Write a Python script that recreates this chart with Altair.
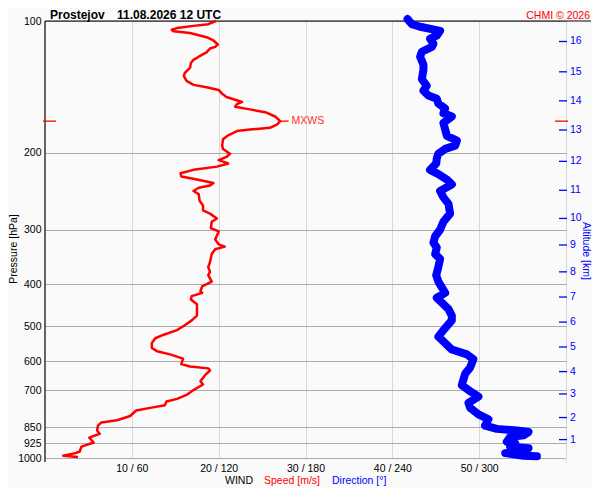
import altair as alt
import pandas as pd

# ---- data ----
speed_p = [100.0,101.7,102.6,103.8,104.7,105.6,106.5,108.9,110.8,113.2,
           114.6,115.6,118.0,120.7,122.7,124.8,128.0,131.4,133.7,137.1,
           140.0,141.8,143.8,146.8,149.3,151.4,153.2,155.0,157.1,159.3,
           162.0,165.4,169.5,172.6,175.6,177.1,178.6,182.6,186.4,192.8,
           196.2,201.3,204.7,208.2,211.8,215.4,219.1,223.0,226.8,230.6,
           234.7,237.8,240.8,244.9,249.0,257.7,264.4,271.3,275.9,283.0,
           288.0,297.9,303.1,316.2,324.4,328.3,332.8,341.5,356.3,365.5,
           375.0,381.6,394.7,404.9,415.4,419.0,426.2,433.6,444.9,472.1,
           484.3,496.9,509.7,522.9,532.1,545.9,560.1,569.6,579.3,592.5,
           609.7,617.3,623.6,631.0,647.3,667.5,678.9,699.2,717.3,732.2,
           742.3,757.7,767.9,778.6,801.6,819.4,829.1,843.3,865.2,880.1,
           898.3,921.4,941.9,966.3,974.7,988.3,994.9]
speed_v = [19.7,18.8,17.1,15.2,14.6,14.8,16.7,18.6,19.4,19.9,
           19.6,19.0,18.6,17.7,17.1,16.8,16.7,16.1,16.0,16.3,
           17.1,18.6,20.0,20.4,20.9,21.9,22.7,22.1,21.9,23.6,
           25.5,26.5,27.1,26.7,25.9,23.6,22.1,21.1,20.5,20.4,
           20.5,21.3,20.9,20.0,21.1,19.8,17.1,15.6,15.7,17.5,
           19.4,19.0,17.7,17.1,17.7,17.8,18.2,18.2,19.0,19.8,
           19.2,19.1,20.0,19.6,20.0,20.7,19.6,19.2,19.0,18.8,
           19.0,18.8,19.2,18.1,17.9,18.1,16.9,16.8,17.5,17.5,
           16.9,16.1,15.2,13.6,12.7,12.3,12.3,12.9,14.4,15.9,
           15.7,16.7,18.8,19.0,18.4,17.9,18.2,17.1,16.3,15.2,
           14.0,13.8,12.1,10.5,9.8,8.3,6.5,6.1,6.0,6.3,
           5.1,5.6,4.2,4.0,3.5,2.1,3.8]

dir_p = [99.0,101.7,103.1,105.3,108.0,109.8,112.7,114.6,117.6,120.7,
         125.9,129.2,135.9,140.7,144.3,148.1,150.6,154.5,158.5,162.6,
         165.4,171.1,177.1,183.2,187.9,192.8,196.2,201.3,206.5,211.8,
         219.1,224.1,230.6,236.6,244.9,253.3,262.1,275.9,288.0,300.4,
         310.9,321.6,329.9,341.5,350.3,365.5,381.6,394.7,419.0,429.9,
         441.0,456.4,472.1,484.3,509.7,527.5,545.9,564.7,579.3,594.3,
         620.4,641.7,681.3,699.2,723.6,748.2,767.9,794.3,815.3,843.3,
         857.7,865.2,872.3,887.6,894.9,918.1,926.1,941.9,950.1,966.3,
         974.7,988.3,991.3]
dir_v = [250.5,253.5,259.2,273.0,270.7,266.1,268.4,267.3,260.4,259.2,
         261.5,261.5,260.4,263.8,261.5,264.9,270.7,271.8,276.5,275.3,
         281.1,275.3,276.5,277.7,284.6,283.4,276.5,271.8,270.7,270.3,
         266.1,271.8,277.7,281.1,273.0,275.3,278.8,279.9,275.3,273.0,
         269.6,268.4,270.7,269.6,273.0,271.8,270.3,271.8,276.5,270.7,
         274.2,278.8,281.1,281.1,275.3,271.8,276.5,281.1,291.5,296.0,
         293.8,290.3,288.0,292.6,299.5,292.6,293.8,299.5,306.4,304.1,
         312.2,326.0,334.1,330.6,321.4,319.1,324.9,321.4,334.1,326.0,
         318.0,330.6,339.9]

alt_km = [1, 2, 3, 4, 5, 6, 7, 8, 9, 10, 11, 12, 13, 14, 15, 16]
alt_p = [907.6, 808.0, 713.6, 634.3, 557.2, 488.7, 428.2, 375.0,
         325.5, 283.0, 244.0, 209.5, 177.6, 152.3, 130.7, 111.4]

p_ticks = [100, 200, 300, 400, 500, 600, 700, 850, 925, 1000]
x_ticks = [10, 20, 30, 40, 50, 60]

# ---- layout / style ----
W, H = 521, 437
FONT = "Liberation Sans"
RED = "#ff0000"
BLUE = "#0000ff"
BG = "#fafafa"
FS = 10.5

speed_df = pd.DataFrame({"i": range(len(speed_p)), "p": speed_p, "speed": speed_v})
dir_df = pd.DataFrame({"i": range(len(dir_p)), "p": dir_p, "dir": dir_v})
alt_df = pd.DataFrame({"km": alt_km, "p": alt_p})
imax = speed_df["speed"].idxmax()
mx_df = speed_df.loc[[imax]].copy()
mx_df["speed2"] = mx_df["speed"] + 0.95
one = pd.DataFrame({"a": [0]})

xscale = alt.Scale(domain=[0, 60], nice=False, zero=False)
yscale = alt.Scale(type="log", domain=[100, 1000], reverse=True, nice=False)

AX = alt.Axis(
    values=x_ticks,
    labelExpr="datum.value < 60 ? datum.value + ' / ' + (datum.value * 6) : ''",
    grid=True, gridColor="#d8d8d8", ticks=False, domain=False, title=None,
    labelFont=FONT, labelFontSize=FS, labelColor="black", labelPadding=5,
    labelFlush=False, labelOverlap=False)
AY = alt.Axis(
    values=p_ticks, format="d",
    grid=True, gridColor="#aaaaaa", ticks=False, domain=False, title=None,
    labelFont=FONT, labelFontSize=FS, labelColor="black", labelPadding=4,
    labelOverlap=False)


def X(field):
    return alt.X(field, scale=xscale, axis=AX)


def Y(field="p:Q"):
    return alt.Y(field, scale=yscale, axis=AY)


speed_line = alt.Chart(speed_df).mark_line(
    color=RED, strokeWidth=2.5, strokeJoin="round"
).encode(x=X("speed:Q"), y=Y(), order="i:Q")

dir_line = alt.Chart(dir_df).transform_calculate(xs="datum.dir / 6").mark_line(
    color=BLUE, strokeWidth=8, strokeCap="round", strokeJoin="round"
).encode(x=X("xs:Q"), y=Y(), order="i:Q")

top_line = alt.Chart(one).mark_rule(color="black", strokeWidth=1.2).encode(
    x=alt.value(0), x2=alt.value(546), y=alt.value(0))
left_line = alt.Chart(one).mark_rule(color="black", strokeWidth=1.2).encode(
    x=alt.value(0), y=alt.value(0), y2=alt.value(H + 4))
right_ext = alt.Chart(one).mark_rule(color="#d8d8d8", strokeWidth=1).encode(
    x=alt.value(W), y=alt.value(H), y2=alt.value(H + 5))

alt_ticks = alt.Chart(alt_df).mark_rule(color=BLUE, strokeWidth=1.3).encode(
    x=alt.value(W - 7), x2=alt.value(W + 1), y=Y())
alt_labels = alt.Chart(alt_df).mark_text(
    color=BLUE, align="left", baseline="middle", font=FONT, fontSize=FS
).encode(x=alt.value(W + 4), y=Y(), text="km:Q")

mx_left = alt.Chart(mx_df).mark_rule(color=RED, strokeWidth=1.3).encode(
    x=alt.value(-2), x2=alt.value(11), y=Y())
mx_right = alt.Chart(mx_df).mark_rule(color=RED, strokeWidth=1.3).encode(
    x=alt.value(W - 11), x2=alt.value(W + 2), y=Y())
mx_conn = alt.Chart(mx_df).mark_rule(color=RED, strokeWidth=1.3).encode(
    x=X("speed:Q"), x2="speed2:Q", y=Y())
mx_text = alt.Chart(mx_df).mark_text(
    color="#ff3030", align="left", baseline="middle", font=FONT, fontSize=FS, dx=3
).encode(x=X("speed2:Q"), y=Y(), text=alt.value("MXWS"))


def label(txt, x, y, color="black", size=FS, bold=False, align="left",
          baseline="middle", angle=0):
    kw = dict(color=color, font=FONT, fontSize=size, align=align,
              baseline=baseline, text=txt)
    if bold:
        kw["fontWeight"] = "bold"
    if angle:
        kw["angle"] = angle
    return alt.Chart(one).mark_text(**kw).encode(x=alt.value(x), y=alt.value(y))


texts = [
    label("Prostejov", 5, -2, size=12, bold=True, baseline="alphabetic"),
    label("11.08.2026 12 UTC", 72, -2, size=12, bold=True, baseline="alphabetic"),
    label("CHMI © 2026", 545, -2, color=RED, align="right", baseline="alphabetic"),
    label("Pressure [hPa]", -31, round(0.522 * H), align="center", angle=270),
    label("Altitude [km]", 541, round(0.527 * H), color=BLUE, align="center", angle=90),
    label("WIND", 180, H + 23),
    label("Speed [m/s]", 219, H + 23, color=RED),
    label("Direction [°]", 287, H + 23, color=BLUE),
]

chart = alt.layer(
    top_line, right_ext, speed_line, dir_line, left_line,
    alt_ticks, alt_labels, mx_left, mx_right, mx_conn, mx_text, *texts
).properties(
    width=W, height=H,
    autosize=alt.AutoSizeParams(type="none"),
    padding={"left": 37, "top": 13, "right": 26, "bottom": 30},
    background=BG,
).configure_view(stroke=None)

chart.save("out.html", embed_options={"renderer": "svg", "actions": False})
